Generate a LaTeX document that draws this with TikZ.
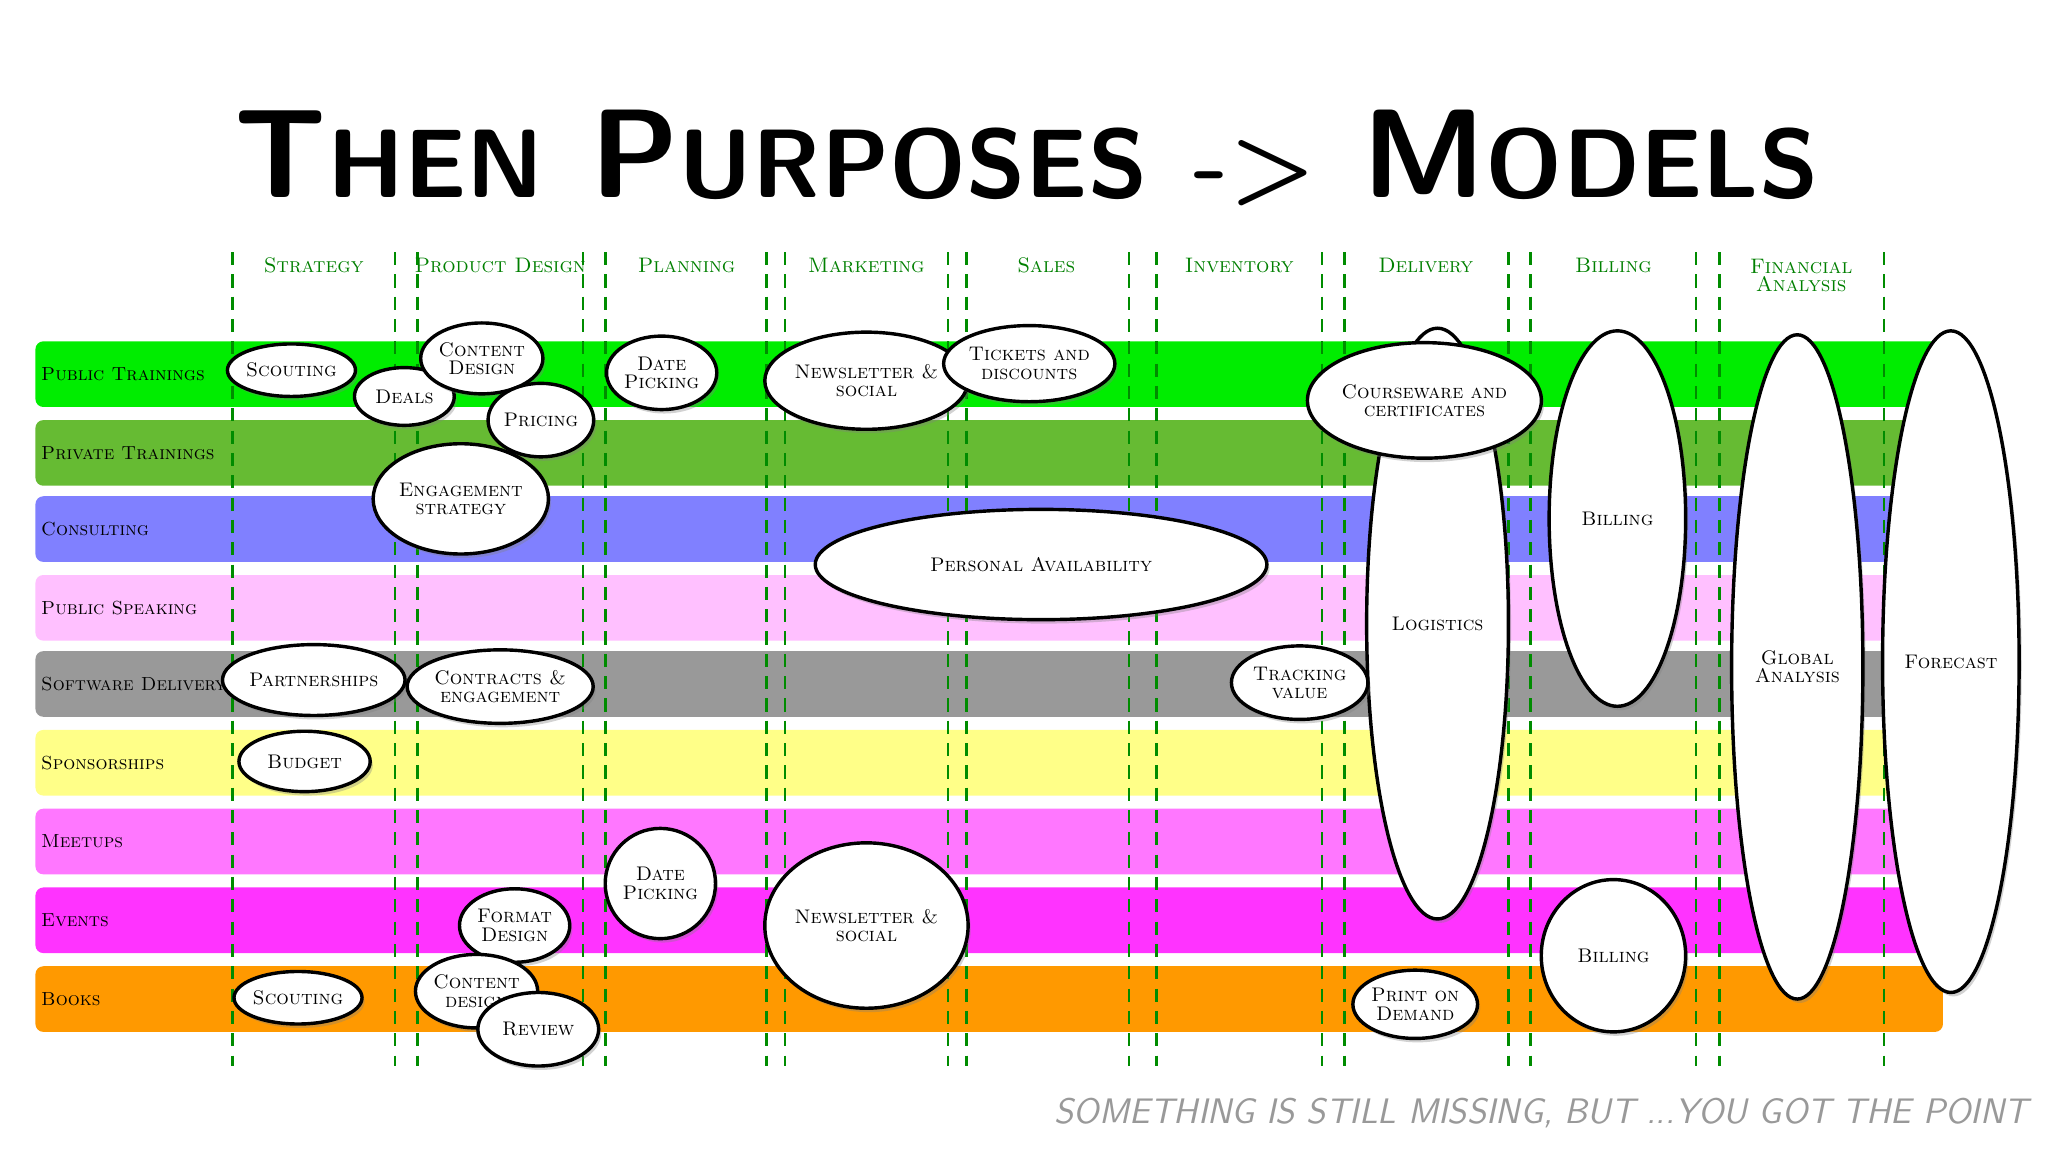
\documentclass[tikz,border=0pt]{standalone}
\usetikzlibrary{shadows,shapes.geometric}
\begin{document}
\begin{tikzpicture}[x=0.5pt,y=-0.5pt,
 band/.style={fill=#1,draw=none,rounded corners=3pt},
 vl/.style={draw=green!55!black,dash pattern=on 5pt off 3.5pt,line width=1pt},
 hd/.style={text=green!50!black,font=\scshape\fontsize{8}{8}\selectfont,align=center},
 rl/.style={anchor=west,inner sep=1pt,font=\scshape\fontsize{7.2}{7.2}\selectfont},
 el/.style 2 args={ellipse,draw=black,line width=1.3pt,fill=white,minimum width=#1*0.5pt,minimum height=#2*0.5pt,drop shadow={shadow xshift=1pt,shadow yshift=-1.5pt,opacity=0.35},inner sep=0pt,align=center,font=\scshape\fontsize{7.5}{7}\selectfont}]
\useasboundingbox (0,0) rectangle (1560,877.5);
\fill[white] (0,0) rectangle (1560,877.5);
\node (title) at (782,120) {\fontsize{48}{48}\selectfont\bfseries\sffamily T{\fontsize{37}{37}\selectfont HEN} P{\fontsize{37}{37}\selectfont URPOSES} {\fontsize{37}{37}\selectfont ->} M{\fontsize{37}{37}\selectfont ODELS}};
% bands
\foreach \y/\c/\t [count=\i] in {285/{green!93!black}/Public Trainings,345/{rgb,255:red,102;green,187;blue,51}/Private Trainings,403/{rgb,255:red,128;green,128;blue,255}/Consulting,463/{rgb,255:red,255;green,192;blue,255}/Public Speaking,521/{rgb,255:red,153;green,153;blue,153}/Software Delivery,581/{rgb,255:red,255;green,255;blue,136}/Sponsorships,641/{rgb,255:red,255;green,119;blue,255}/Meetups,701/{rgb,255:red,255;green,51;blue,255}/Events,761/{rgb,255:red,255;green,153;blue,0}/Books}{
 \fill[band=\c] (27,\y-25) rectangle (1480,\y+25);
 \node[rl] (r\i) at (29,\y) {\t};
}
% dashed lines
\foreach \x in {177,301,318,444,461,584,598,722,736,860,881,1007,1024,1149,1166,1292,1310,1435}
 \draw[vl] (\x,192) -- (\x,812);
% headers
\node[hd] (h1) at (239,202) {Strategy};
\node[hd] (h2) at (381,202) {Product Design};
\node[hd] (h3) at (523,202) {Planning};
\node[hd] (h4) at (660,202) {Marketing};
\node[hd] (h5) at (797,202) {Sales};
\node[hd] (h6) at (944,202) {Inventory};
\node[hd] (h7) at (1086,202) {Delivery};
\node[hd] (h8) at (1229,202) {Billing};
\node[hd] (h9) at (1372,210) {Financial\\[-1pt]Analysis};
% ellipses
\node[el={80}{40}] (e1) at (222,282) {Scouting};
\node[el={76}{44}] (e3) at (308,302) {Deals};
\node[el={84}{54}] (e2) at (367,273) {Content\\Design};
\node[el={80}{56}] (e4) at (412,320) {Pricing};
\node[el={84}{56}] (e5) at (504,284) {Date\\Picking};
\node[el={124}{74}] (e6) at (660,290) {Newsletter \&\\social};
\node[el={104}{58}] (e7) at (784,277) {Tickets and\\discounts};
\node[el={124}{84}] (e9) at (351,380) {Engagement\\strategy};
\node[el={344}{84}] (e10) at (793,430) {Personal Availability};
\node[el={104}{286}] (e11) at (1232,395) {Billing};
\node[el={108}{450}] (e12) at (1095,475) {Logistics};
\node[el={128}{88}] (e8) at (1085,305) {Courseware and\\certificates};
\node[el={100}{506}] (e13) at (1369,508) {Global\\Analysis};
\node[el={104}{504}] (e14) at (1486,504) {Forecast};
\node[el={124}{54}] (e15) at (239,518) {Partnerships};
\node[el={124}{56}] (e16) at (381,523) {Contracts \&\\engagement};
\node[el={104}{56}] (e17) at (990,520) {Tracking\\value};
\node[el={100}{46}] (e18) at (232,580) {Budget};
\node[el={84}{84}] (e19) at (503,673) {Date\\Picking};
\node[el={124}{126}] (e20) at (660,705) {Newsletter \&\\social};
\node[el={84}{56}] (e21) at (392,705) {Format\\Design};
\node[el={110}{116}] (e22) at (1229,728) {Billing};
\node[el={80}{40}] (e23) at (227,760) {Scouting};
\node[el={88}{56}] (e24) at (363,755) {Content\\design};
\node[el={92}{56}] (e25) at (410,784) {Review};
\node[el={92}{52}] (e26) at (1078,765) {Print on\\Demand};
\node[anchor=east,text=black!40,font=\itshape\sffamily\fontsize{13.5}{13.5}\selectfont] (foot) at (1552,848) {SOMETHING IS STILL MISSING, BUT ...YOU GOT THE POINT};
\end{tikzpicture}
\end{document}
